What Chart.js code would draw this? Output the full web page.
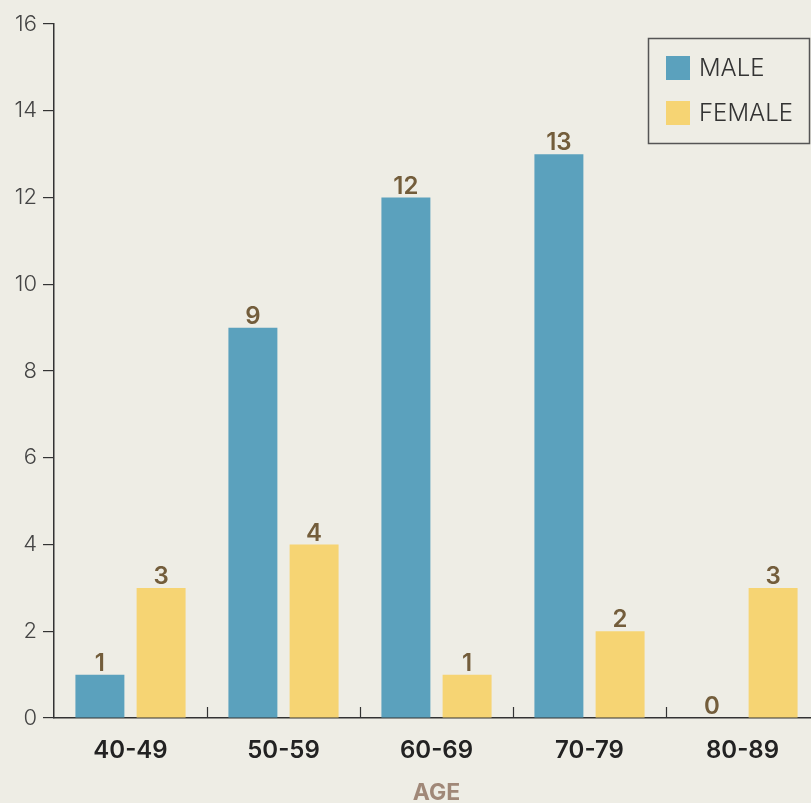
<!DOCTYPE html>
<html>
<head>
<meta charset="utf-8">
<style>
  html, body { margin: 0; padding: 0; background: #eeede5; overflow: hidden; }
  #wrap { width: 830px; height: 803px; }
</style>
<script src="https://cdn.jsdelivr.net/npm/chart.js@4/dist/chart.umd.min.js"></script>
</head>
<body>
<div id="wrap"><canvas id="c" width="830" height="803"></canvas></div>
<script>
const ageGroups = ['40-49', '50-59', '60-69', '70-79', '80-89'];
const maleCounts = [1, 9, 12, 13, 0];
const femaleCounts = [3, 4, 1, 2, 3];
const seriesNames = ['MALE', 'FEMALE'];
const axisTitle = 'AGE';

const FONT = 'Inter, "Open Sans", sans-serif';

// Value labels above each bar
const valueLabels = {
  id: 'valueLabels',
  afterDatasetsDraw(chart) {
    const ctx = chart.ctx;
    ctx.save();
    ctx.font = '600 24px ' + FONT;
    ctx.fillStyle = '#735d3b';
    ctx.textAlign = 'center';
    ctx.textBaseline = 'alphabetic';
    chart.data.datasets.forEach((ds, i) => {
      chart.getDatasetMeta(i).data.forEach((el, j) => {
        ctx.fillText(String(ds.data[j]), el.x, el.y - 4);
      });
    });
    ctx.restore();
  }
};

// Short upward ticks between categories on the x axis
const categoryDividers = {
  id: 'categoryDividers',
  afterDraw(chart) {
    const xs = chart.scales.x;
    const ctx = chart.ctx;
    const bottom = chart.chartArea.bottom;
    ctx.save();
    ctx.strokeStyle = '#333';
    ctx.lineWidth = 1.2;
    for (let i = 1; i < ageGroups.length; i++) {
      const x = Math.round((xs.getPixelForTick(i - 1) + xs.getPixelForTick(i)) / 2) + 0.5;
      ctx.beginPath();
      ctx.moveTo(x, bottom);
      ctx.lineTo(x, bottom - 11);
      ctx.stroke();
    }
    ctx.restore();
  }
};

// Boxed legend in the top-right corner
const boxLegend = {
  id: 'boxLegend',
  afterDraw(chart) {
    const ctx = chart.ctx;
    const x0 = 648, y0 = 38, w = 161, h = 105;
    ctx.save();
    ctx.strokeStyle = '#555';
    ctx.lineWidth = 1.5;
    ctx.strokeRect(x0 + 0.5, y0 + 0.5, w, h);
    ctx.font = '300 24px ' + FONT;
    ctx.textBaseline = 'middle';
    ctx.textAlign = 'left';
    chart.data.datasets.forEach((ds, i) => {
      const cy = y0 + 30 + i * 45;
      ctx.fillStyle = ds.backgroundColor;
      ctx.fillRect(x0 + 18, cy - 12, 24, 24);
      ctx.fillStyle = '#333';
      ctx.fillText(ds.label, x0 + 51, cy + 1);
    });
    ctx.restore();
  }
};

new Chart(document.getElementById('c'), {
  type: 'bar',
  data: {
    labels: ageGroups,
    datasets: [
      { label: seriesNames[0], data: maleCounts, backgroundColor: '#5ba1bd' },
      { label: seriesNames[1], data: femaleCounts, backgroundColor: '#f6d473' }
    ]
  },
  options: {
    responsive: false,
    animation: false,
    layout: { padding: { top: 24, right: 11, left: 0, bottom: 0 } },
    plugins: { legend: { display: false }, tooltip: { enabled: false } },
    datasets: { bar: { categoryPercentage: 0.8, barPercentage: 0.8 } },
    scales: {
      x: {
        afterFit(scale) { scale.height = 85; },
        grid: { display: false, drawTicks: false },
        border: { display: true, color: '#333', width: 1.5 },
        ticks: { color: '#222', font: { family: FONT, size: 24, weight: '600', lineHeight: 1 }, padding: 21 },
        title: { display: true, text: axisTitle, color: '#a08878', font: { family: FONT, size: 23, weight: '700', lineHeight: 1 }, padding: { top: 0, bottom: -2 } }
      },
      y: {
        min: 0, max: 16,
        afterFit(scale) { scale.width = 54; },
        grid: { drawOnChartArea: false, drawTicks: true, tickLength: 11, color: '#333', lineWidth: 1.2 },
        border: { display: true, color: '#333', width: 1.5 },
        ticks: { stepSize: 2, color: '#444', font: { family: FONT, size: 22, weight: '300' }, padding: 6 }
      }
    }
  },
  plugins: [valueLabels, categoryDividers, boxLegend]
});
</script>
</body>
</html>
